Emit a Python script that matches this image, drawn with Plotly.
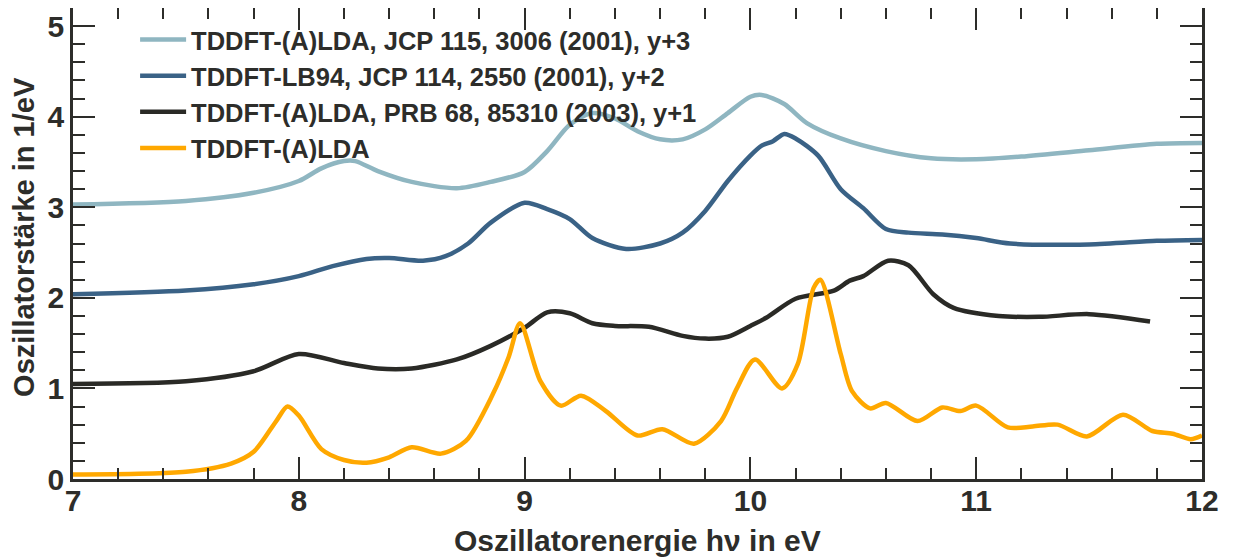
import plotly.graph_objects as go

# energies (eV) and oscillator strengths (1/eV)
x_jcp115 = [7.0, 7.5, 7.8, 8.0, 8.1, 8.2, 8.25, 8.35, 8.5, 8.7, 8.85, 9.0, 9.1, 9.2, 9.3, 9.4,
            9.5, 9.6, 9.7, 9.8, 9.9, 10.0, 10.05, 10.15, 10.25, 10.4, 10.6, 10.8, 11.0, 11.2,
            11.5, 11.8, 12.0]
y_jcp115 = [0.03, 0.07, 0.16, 0.29, 0.43, 0.51, 0.51, 0.40, 0.28, 0.21, 0.28, 0.39, 0.62, 0.91,
            1.04, 0.98, 0.84, 0.75, 0.75, 0.86, 1.04, 1.22, 1.24, 1.14, 0.93, 0.76, 0.62, 0.54,
            0.53, 0.56, 0.63, 0.70, 0.71]

x_lb94 = [7.0, 7.5, 7.8, 8.0, 8.15, 8.3, 8.4, 8.55, 8.65, 8.75, 8.85, 9.0, 9.1, 9.2, 9.3, 9.45,
          9.6, 9.7, 9.8, 9.9, 10.0, 10.05, 10.1, 10.15, 10.2, 10.3, 10.4, 10.5, 10.6, 10.7, 10.85,
          11.0, 11.15, 11.5, 11.8, 12.0]
y_lb94 = [0.04, 0.08, 0.15, 0.24, 0.35, 0.43, 0.44, 0.41, 0.46, 0.60, 0.83, 1.05, 0.98, 0.87,
          0.66, 0.54, 0.60, 0.72, 0.96, 1.29, 1.57, 1.68, 1.73, 1.81, 1.76, 1.57, 1.20, 0.99,
          0.76, 0.72, 0.70, 0.66, 0.60, 0.59, 0.63, 0.64]

x_prb68 = [7.0, 7.5, 7.8, 8.0, 8.2, 8.35, 8.5, 8.7, 8.85, 9.0, 9.1, 9.2, 9.3, 9.4, 9.55, 9.7,
           9.8, 9.9, 10.0, 10.07, 10.2, 10.37, 10.44, 10.5, 10.61, 10.7, 10.81, 10.9, 11.1,
           11.28, 11.5, 11.77]
y_prb68 = [0.05, 0.08, 0.19, 0.38, 0.28, 0.22, 0.22, 0.32, 0.47, 0.67, 0.84, 0.83, 0.72, 0.69,
           0.68, 0.58, 0.55, 0.57, 0.69, 0.78, 0.99, 1.08, 1.19, 1.24, 1.41, 1.36, 1.04, 0.89,
           0.80, 0.79, 0.82, 0.74]

x_lda = [7.0, 7.5, 7.7, 7.8, 7.9, 7.95, 8.0, 8.1, 8.2, 8.3, 8.4, 8.5, 8.63, 8.74, 8.86, 8.93,
         8.98, 9.07, 9.16, 9.25, 9.36, 9.5, 9.61, 9.75, 9.87, 9.94, 10.02, 10.14, 10.21, 10.28,
         10.31, 10.4, 10.45, 10.53, 10.6, 10.74, 10.85, 10.93, 11.0, 11.14, 11.25, 11.36, 11.49,
         11.65, 11.78, 11.87, 11.95, 12.0]
y_lda = [0.05, 0.08, 0.17, 0.30, 0.64, 0.80, 0.70, 0.33, 0.21, 0.18, 0.24, 0.35, 0.28, 0.42,
         0.94, 1.35, 1.72, 1.08, 0.81, 0.92, 0.75, 0.48, 0.55, 0.39, 0.64, 1.00, 1.32, 1.00,
         1.27, 2.11, 2.20, 1.38, 0.97, 0.78, 0.84, 0.64, 0.79, 0.75, 0.81, 0.57, 0.58, 0.60,
         0.47, 0.71, 0.53, 0.50, 0.44, 0.48]

names = ["TDDFT-(A)LDA, JCP 115, 3006 (2001), y+3",
         "TDDFT-LB94, JCP 114, 2550 (2001), y+2",
         "TDDFT-(A)LDA, PRB 68, 85310 (2003), y+1",
         "TDDFT-(A)LDA"]
offsets = [3, 2, 1, 0]
colors = ["#8fb6c1", "#3a6286", "#2a2a26", "#ffa800"]

series = [(x_jcp115, y_jcp115), (x_lb94, y_lb94), (x_prb68, y_prb68), (x_lda, y_lda)]

INK = "#2d2d2a"
FONT = "Liberation Sans"

fig = go.Figure()
for (xs, ys), name, off, col in zip(series, names, offsets, colors):
    fig.add_trace(go.Scatter(
        x=xs, y=[v + off for v in ys], mode="lines", name=name,
        line=dict(color=col, width=4.5, shape="spline", smoothing=0.8),
    ))

axis_common = dict(
    showline=True, linecolor=INK, linewidth=2.5, mirror="ticks",
    ticks="inside", tickcolor=INK, tickwidth=2, ticklen=22,
    showgrid=False, zeroline=False, automargin=False,
    tickfont=dict(family=FONT, size=30, color=INK, weight="bold"),
)

fig.update_xaxes(
    range=[7, 12], dtick=1, tick0=7, ticklabelstandoff=-7,
    minor=dict(dtick=0.2, ticks="inside", ticklen=11, tickcolor=INK, tickwidth=2),
    **axis_common,
)
fig.update_yaxes(
    range=[0, 5.2], dtick=1, tick0=0,
    minor=dict(dtick=0.2, ticks="inside", ticklen=12, tickcolor=INK, tickwidth=2),
    **axis_common,
)

fig.add_annotation(
    text="Oszillatorstärke in 1/eV", textangle=-90,
    xref="paper", yref="paper", x=-0.043, y=0.515, xanchor="center", yanchor="middle",
    showarrow=False, font=dict(family=FONT, size=29, color=INK, weight="bold"),
)
fig.add_annotation(
    text="Oszillatorenergie hν in eV",
    xref="paper", yref="paper", x=0.5, y=-0.13, xanchor="center", yanchor="middle",
    showarrow=False, font=dict(family=FONT, size=30, color=INK, weight="bold"),
)

# the page body adds 8px around the figure, so the margins absorb it
fig.update_layout(
    width=1233, height=559,
    margin=dict(l=65, r=39, t=0, b=88),
    plot_bgcolor="white", paper_bgcolor="white",
    showlegend=True,
    legend=dict(x=0.055, y=0.982, xanchor="left", yanchor="top",
                bgcolor="rgba(0,0,0,0)", itemwidth=46,
                font=dict(family=FONT, size=25.5, color=INK, weight="bold")),
)

fig.write_html("out.html")
